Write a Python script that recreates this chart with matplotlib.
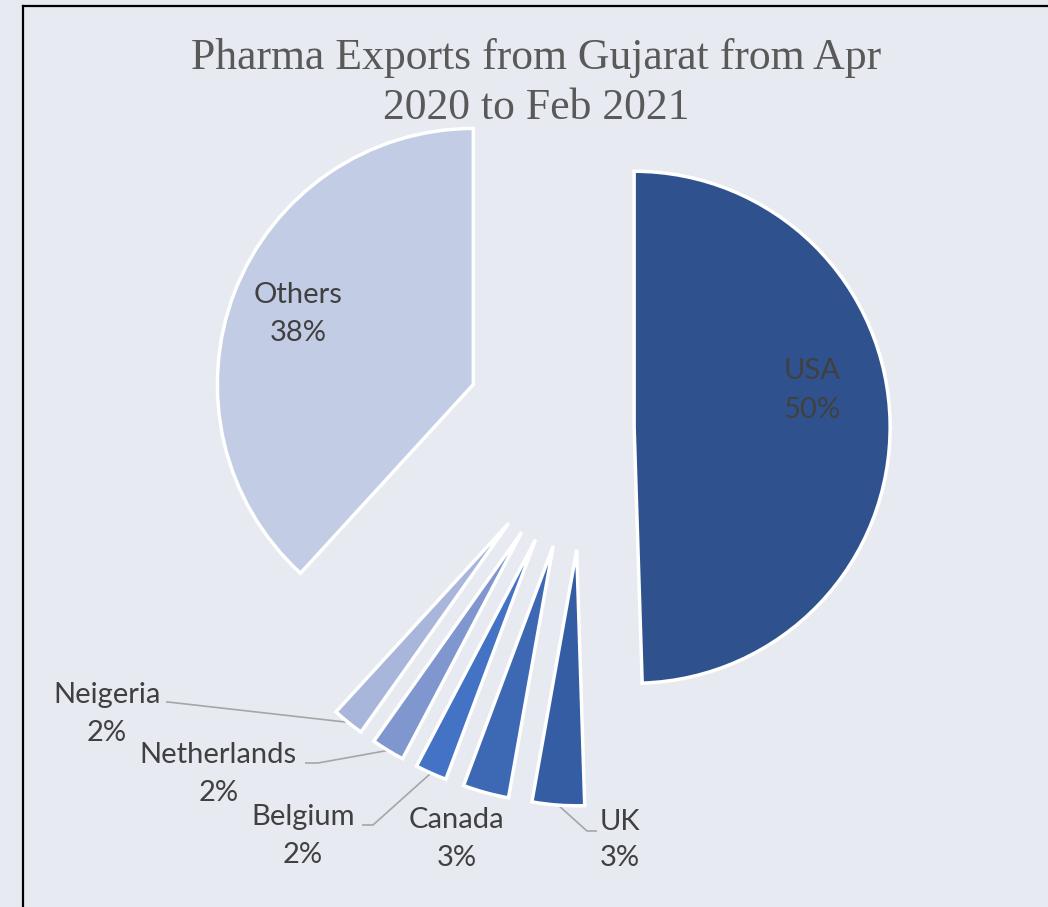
import matplotlib
matplotlib.use("Agg")
import matplotlib.pyplot as plt
import numpy as np

# ---- data ----
categories = ["USA", "UK", "Canada", "Belgium", "Netherlands", "Neigeria", "Others"]
values = [49.5, 3.3, 2.9, 2.0, 2.1, 2.0, 38.2]
pct_labels = ["50%", "3%", "3%", "2%", "2%", "2%", "38%"]
title = "Pharma Exports from Gujarat from Apr\n2020 to Feb 2021"

# ---- style ----
colors = ["#2F528F", "#355DA4", "#3D69B4", "#4472C4", "#7F96CF", "#A8B6DB", "#C2CDE5"]
W, H = 1048, 907
R = 256
# explosion distances (fraction of radius)
explode_frac = [0.19, 0.477, 0.477, 0.477, 0.477, 0.477, 0.47]
BG = "#E7EAF1"
TXT = "#404040"

fig = plt.figure(figsize=(W / 100, H / 100), dpi=100)
fig.patch.set_facecolor(BG)
ax = fig.add_axes([0, 0, 1, 1])
ax.set_facecolor(BG)

wedges, _ = ax.pie(values, explode=[e * R for e in explode_frac], colors=colors,
                   startangle=90, counterclock=False, radius=R,
                   center=(585.5, H - 428),
                   wedgeprops=dict(edgecolor="white", linewidth=2.5),
                   frame=False)
ax.set_xlim(0, W)
ax.set_ylim(0, H)
ax.set_aspect("equal")
ax.axis("off")

def Y(y):
    return H - y

# label positions (pixel coords, y down): (name_xy, pct_xy)
label_pos = {
    "USA": ((812, 371), (812, 410)),
    "UK": ((620, 822), (620, 858)),
    "Canada": ((456, 820), (457, 858)),
    "Belgium": ((303, 817), (303, 855)),
    "Netherlands": ((218, 755), (219, 793)),
    "Neigeria": ((107, 695), (107, 733)),
    "Others": ((298, 295), (298, 333)),
}
font = dict(family=["Lato", "DejaVu Sans"], fontsize=21, color=TXT)
for cat, pct in zip(categories, pct_labels):
    (nx, ny), (px, py) = label_pos[cat]
    ax.text(nx, Y(ny), cat, ha="center", va="center", **font)
    ax.text(px, Y(py), pct, ha="center", va="center", **font)

# leader lines: start points (pixel coords), end on wedge outer arc midpoint
leader_start = {
    "UK": [(597, 831), (587, 831)],
    "Belgium": [(362, 825), (373, 825)],
    "Netherlands": [(305, 763), (318, 763)],
    "Neigeria": [(166, 702), (168, 702)],
}
for cat, pts in leader_start.items():
    w = wedges[categories.index(cat)]
    mid = np.deg2rad((w.theta1 + w.theta2) / 2)
    cx, cy = w.center
    ex, ey = cx + w.r * np.cos(mid), cy + w.r * np.sin(mid)
    xs = [p[0] for p in pts] + [ex]
    ys = [Y(p[1]) for p in pts] + [ey]
    ax.plot(xs, ys, color="#A6A6A6", lw=1.2, solid_capstyle="butt", zorder=0.5)

# title
t1, t2 = title.split("\n")
tfont = dict(family=["Liberation Serif", "DejaVu Serif"], fontsize=31.5, color="#595959")
ax.text(536, Y(69), t1, ha="center", va="baseline", **tfont)
ax.text(536, Y(119), t2, ha="center", va="baseline", **tfont)

# chart frame (top and left edges visible)
ax.plot([23, W + 5], [Y(6), Y(6)], color="black", lw=1.6, clip_on=False)
ax.plot([23, 23], [Y(6), Y(H + 5)], color="black", lw=1.6, clip_on=False)

fig.savefig("out.png", dpi=100, facecolor=BG)
